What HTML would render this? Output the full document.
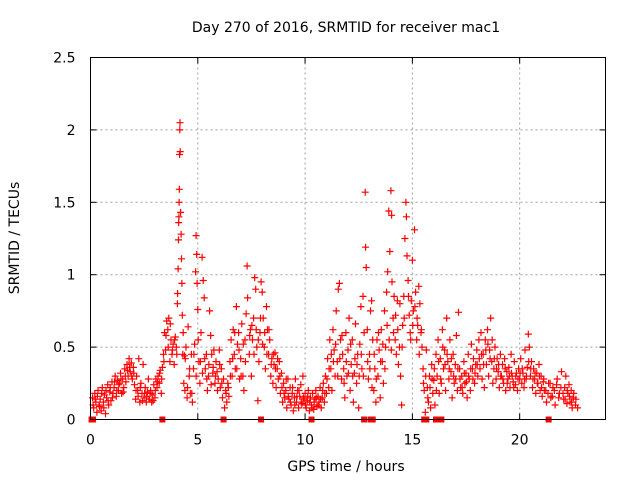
<!DOCTYPE html>
<html><head><meta charset="utf-8">
<style>
html,body{margin:0;padding:0;background:#fff;}
svg{display:block;font-family:"DejaVu Sans","Liberation Sans",sans-serif;}
</style></head>
<body>
<svg id="chart" width="640" height="480" viewBox="0 0 640 480" xmlns="http://www.w3.org/2000/svg">
<rect width="640" height="480" fill="#fff"/>
<text x="346" y="32" font-size="14" text-anchor="middle" fill="#000">Day 270 of 2016, SRMTID for receiver mac1</text>
<text x="346" y="471" font-size="14" text-anchor="middle" fill="#000">GPS time / hours</text>
<text x="0" y="0" font-size="14" text-anchor="middle" fill="#000" transform="translate(19,238) rotate(-90)">SRMTID / TECUs</text>
<g id="grid"></g>
<g id="ticks"></g>
<g id="marks"></g>
<rect x="90.5" y="57.5" width="515" height="362" fill="none" stroke="#000" stroke-width="1"/>
</svg>
<script>
const xTicks=[0,5,10,15,20];
const yTicks=[0,0.5,1,1.5,2,2.5];
const yTickLabels=["0","0.5","1","1.5","2","2.5"];
const gpsTime=[
0.10,0.15,0.20,0.25,0.30,0.35,0.40,0.45,0.50,0.55,0.60,0.65,0.70,0.75,0.80,0.85,0.90,0.95,1.00,1.05,
1.10,1.15,1.20,1.25,1.30,1.35,1.40,1.45,1.50,1.55,1.60,1.65,1.70,1.75,1.80,1.85,1.90,1.95,2.00,2.05,
2.10,2.15,2.20,2.25,2.30,2.35,2.40,2.45,2.50,2.55,2.60,2.65,2.70,2.75,2.80,2.85,2.90,2.95,3.00,3.05,
3.10,3.15,3.20,3.25,3.30,3.35,3.40,3.45,3.50,3.55,3.60,3.65,3.70,3.75,3.80,3.85,3.90,3.95,4.00,4.05,
4.06,4.08,4.10,4.11,4.12,4.13,4.14,4.15,4.16,4.17,4.18,4.20,4.22,4.24,4.26,4.28,4.30,4.32,4.35,4.38,
4.40,4.45,4.50,4.55,4.60,4.65,4.70,4.75,4.80,4.85,4.90,4.92,4.95,4.97,5.00,5.05,5.10,5.15,5.20,5.25,
5.30,5.35,5.40,5.45,5.50,5.55,5.60,5.65,5.70,5.75,5.80,5.85,5.90,5.95,6.00,6.05,6.10,6.15,6.20,6.25,
6.30,6.35,6.40,6.45,6.50,6.55,6.60,6.65,6.70,6.75,6.80,6.85,6.90,6.95,7.00,7.05,7.10,7.15,7.20,7.25,
7.30,7.32,7.40,7.45,7.50,7.55,7.60,7.65,7.70,7.75,7.80,7.85,7.90,7.95,8.00,8.05,8.10,8.15,8.20,8.25,
8.30,8.35,8.40,8.45,8.50,8.55,8.60,8.65,8.70,8.75,8.80,8.85,8.90,8.95,9.00,9.05,9.10,9.15,9.20,9.25,
9.30,9.35,9.40,9.45,9.50,9.55,9.60,9.65,9.70,9.75,9.80,9.85,9.90,9.95,10.00,10.05,10.10,10.15,10.20,10.25,
10.30,10.35,10.40,10.45,10.50,10.55,10.60,10.65,10.70,10.75,10.80,10.85,10.90,10.95,11.00,11.05,11.10,11.15,11.20,11.25,
11.30,11.35,11.40,11.45,11.50,11.55,11.60,11.65,11.70,11.75,11.80,11.85,11.90,11.95,12.00,12.05,12.10,12.15,12.20,12.25,
12.30,12.35,12.40,12.45,12.50,12.55,12.60,12.65,12.70,12.75,12.80,12.82,12.85,12.90,12.95,13.00,13.05,13.10,13.15,13.20,
13.25,13.30,13.35,13.40,13.45,13.50,13.55,13.60,13.65,13.70,13.75,13.80,13.85,13.90,13.95,14.00,14.03,14.05,14.10,14.15,
14.20,14.25,14.30,14.35,14.40,14.45,14.50,14.55,14.60,14.65,14.70,14.72,14.75,14.80,14.85,14.90,14.95,15.00,15.05,15.10,
15.15,15.20,15.25,15.30,15.35,15.40,15.45,15.50,15.55,15.60,15.65,15.70,15.75,15.80,15.85,15.90,15.95,16.00,16.05,16.10,
16.15,16.20,16.25,16.30,16.35,16.40,16.45,16.50,16.55,16.60,16.65,16.70,16.75,16.80,16.85,16.90,16.95,17.00,17.05,17.10,
17.15,17.20,17.25,17.30,17.35,17.40,17.45,17.50,17.55,17.60,17.65,17.70,17.75,17.80,17.85,17.90,17.95,18.00,18.05,18.10,
18.15,18.20,18.25,18.30,18.35,18.40,18.45,18.50,18.55,18.60,18.65,18.70,18.75,18.80,18.85,18.90,18.95,19.00,19.05,19.10,
19.15,19.20,19.25,19.30,19.35,19.40,19.45,19.50,19.55,19.60,19.65,19.70,19.75,19.80,19.85,19.90,19.95,20.00,20.05,20.10,
20.15,20.20,20.25,20.30,20.35,20.40,20.45,20.50,20.55,20.60,20.65,20.70,20.75,20.80,20.85,20.90,20.95,21.00,21.05,21.10,
21.15,21.25,21.35,21.45,21.55,21.65,21.75,21.85,21.95,22.05,22.10,22.15,22.20,22.25,22.30,22.35,22.40,22.45,22.50,22.60,
0.12,0.22,0.32,0.42,0.52,0.62,0.72,0.82,0.92,1.02,1.12,1.22,1.32,1.42,1.52,1.62,1.72,1.82,1.92,2.02,
2.12,2.22,2.32,2.42,2.52,2.62,2.72,2.82,2.92,3.02,3.12,3.22,3.32,3.42,3.52,3.62,3.72,3.82,3.92,4.02,
4.42,4.52,4.62,4.72,4.82,4.92,5.02,5.12,5.22,5.32,5.42,5.52,5.62,5.72,5.82,5.92,6.02,6.12,6.32,6.42,
6.52,6.62,6.72,6.82,6.92,7.02,7.12,7.22,7.42,7.52,7.62,7.72,7.82,7.92,8.02,8.12,8.22,8.32,8.42,8.52,
8.62,8.72,8.82,8.92,9.02,9.12,9.22,9.32,9.42,9.52,9.62,9.72,9.82,9.92,10.02,10.12,10.22,10.32,10.42,10.52,
10.62,10.72,10.82,10.92,11.02,11.12,11.22,11.32,11.42,11.52,11.62,11.72,11.82,11.92,12.02,12.12,12.22,12.32,12.42,12.52,
12.62,12.72,12.92,13.02,13.12,13.22,13.32,13.42,13.52,13.62,13.72,13.82,13.92,14.02,14.12,14.22,14.32,14.42,14.52,14.62,
14.82,14.92,15.02,15.12,15.22,15.32,15.42,15.52,15.62,15.72,15.82,15.92,16.02,16.12,16.22,16.32,16.42,16.52,16.62,16.72,
16.82,16.92,17.02,17.12,17.22,17.32,17.42,17.52,17.62,17.72,17.82,17.92,18.02,18.12,18.22,18.32,18.42,18.52,18.62,18.72,
18.82,18.92,19.02,19.12,19.22,19.32,19.42,19.52,19.62,19.72,19.82,19.92,20.02,20.12,20.22,20.32,20.42,20.52,20.62,20.72,
20.82,20.92,21.02,21.12,21.22,21.32,21.42,21.52,21.62,21.72,21.82,21.92,22.02,22.12,22.22,22.32,22.42,22.52,22.62,22.70
];
const srmtid=[
0.15,0.08,0.18,0.12,0.05,0.20,0.10,0.14,0.06,0.22,0.12,0.17,0.04,0.15,0.24,0.10,0.19,0.13,0.26,0.18,
0.22,0.30,0.16,0.27,0.20,0.25,0.32,0.18,0.28,0.22,0.35,0.26,0.38,0.30,0.42,0.33,0.39,0.28,0.36,0.24,
0.14,0.30,0.20,0.42,0.12,0.25,0.18,0.38,0.15,0.22,0.12,0.19,0.28,0.14,0.20,0.12,0.17,0.24,0.15,0.28,
0.22,0.30,0.25,0.34,0.18,0.36,0.45,0.60,0.48,0.68,0.62,0.70,0.40,0.55,0.45,0.52,0.38,0.57,0.50,0.80,
0.87,1.04,1.24,1.36,1.40,1.50,1.59,1.83,2.00,2.05,1.85,1.43,1.28,1.11,0.94,0.72,0.45,0.60,0.25,0.44,
0.20,0.50,0.15,0.64,0.30,0.18,0.45,0.12,0.35,0.52,1.02,1.27,1.14,0.94,0.76,0.40,0.25,0.60,1.12,0.96,
0.84,0.35,0.45,0.20,0.30,0.75,0.58,0.45,0.32,0.48,0.25,0.40,0.33,0.28,0.48,0.22,0.35,0.15,0.28,0.08,
0.20,0.12,0.25,0.16,0.40,0.55,0.30,0.62,0.45,0.35,0.78,0.52,0.60,0.28,0.42,0.66,0.30,0.20,0.55,0.73,
1.06,0.84,0.45,0.62,0.30,0.55,0.70,0.98,0.90,0.50,0.13,0.40,0.60,0.95,0.88,0.70,0.50,0.35,0.78,0.62,
0.45,0.55,0.30,0.42,0.25,0.38,0.46,0.22,0.35,0.28,0.40,0.18,0.32,0.12,0.25,0.15,0.20,0.08,0.28,0.14,
0.22,0.10,0.18,0.06,0.15,0.28,0.12,0.20,0.08,0.16,0.24,0.11,0.30,0.14,0.18,0.08,0.13,0.20,0.06,0.15,
0.10,0.18,0.07,0.14,0.20,0.09,0.16,0.12,0.22,0.08,0.15,0.25,0.12,0.30,0.18,0.42,0.22,0.55,0.35,0.20,
0.62,0.48,0.30,0.75,0.40,0.90,0.94,0.55,0.28,0.45,0.35,0.15,0.60,0.30,0.48,0.70,0.20,0.38,0.55,0.12,
0.32,0.66,0.25,0.45,0.08,0.52,0.78,0.35,0.85,0.60,1.57,1.19,1.05,0.62,0.28,0.45,0.75,0.82,0.55,0.20,
0.35,0.12,0.55,0.30,0.48,0.15,0.62,0.40,0.25,0.75,0.50,0.88,1.02,1.44,1.16,1.58,1.41,0.95,0.70,0.85,
0.55,0.45,0.82,0.38,0.50,0.30,0.10,0.65,0.85,1.25,1.50,1.40,1.13,0.96,0.72,0.60,0.82,1.10,0.75,1.31,
0.88,0.55,0.65,0.92,0.80,0.60,0.50,0.35,0.20,0.05,0.48,0.22,0.12,0.30,0.08,0.38,0.18,0.27,0.10,0.45,
0.30,0.55,0.18,0.42,0.25,0.62,0.35,0.48,0.20,0.70,0.40,0.28,0.55,0.33,0.15,0.45,0.25,0.38,0.58,0.20,
0.74,0.35,0.22,0.30,0.18,0.40,0.25,0.32,0.15,0.45,0.28,0.20,0.52,0.35,0.42,0.25,0.38,0.48,0.30,0.55,
0.35,0.60,0.28,0.45,0.22,0.55,0.38,0.62,0.30,0.48,0.70,0.40,0.25,0.35,0.50,0.28,0.42,0.33,0.22,0.45,
0.30,0.38,0.25,0.42,0.20,0.33,0.28,0.36,0.22,0.45,0.30,0.26,0.40,0.24,0.32,0.20,0.35,0.28,0.42,0.25,
0.32,0.22,0.48,0.28,0.36,0.59,0.50,0.30,0.40,0.22,0.35,0.28,0.18,0.32,0.25,0.38,0.20,0.30,0.16,0.26,
0.20,0.12,0.25,0.15,0.22,0.10,0.28,0.18,0.33,0.14,0.22,0.30,0.11,0.18,0.24,0.12,0.20,0.08,0.15,0.10,
0.10,0.14,0.16,0.09,0.18,0.08,0.20,0.13,0.22,0.15,0.26,0.20,0.24,0.28,0.19,0.30,0.34,0.36,0.30,0.32,
0.20,0.16,0.22,0.13,0.18,0.16,0.14,0.18,0.13,0.20,0.26,0.32,0.28,0.40,0.58,0.50,0.66,0.48,0.55,0.45,
0.42,0.22,0.35,0.18,0.45,0.30,0.55,0.40,0.32,0.42,0.28,0.38,0.24,0.36,0.30,0.20,0.38,0.25,0.18,0.22,
0.30,0.42,0.60,0.35,0.48,0.30,0.52,0.40,0.58,0.65,0.45,0.62,0.55,0.70,0.52,0.60,0.45,0.62,0.38,0.45,
0.35,0.42,0.30,0.22,0.18,0.28,0.16,0.12,0.22,0.10,0.16,0.20,0.12,0.15,0.10,0.16,0.12,0.08,0.12,0.15,
0.10,0.14,0.20,0.18,0.28,0.35,0.45,0.40,0.52,0.30,0.42,0.58,0.25,0.40,0.32,0.52,0.30,0.42,0.38,0.30,
0.45,0.30,0.40,0.35,0.22,0.45,0.28,0.60,0.40,0.52,0.35,0.65,0.55,0.48,0.60,0.72,0.62,0.80,0.50,0.70,
0.85,0.55,0.65,0.78,0.70,0.45,0.62,0.25,0.30,0.15,0.22,0.28,0.35,0.20,0.40,0.28,0.50,0.38,0.45,0.35,
0.42,0.30,0.28,0.35,0.28,0.22,0.32,0.26,0.30,0.35,0.28,0.32,0.38,0.42,0.45,0.38,0.48,0.52,0.42,0.55,
0.42,0.35,0.38,0.30,0.28,0.35,0.25,0.30,0.32,0.22,0.30,0.28,0.32,0.35,0.28,0.30,0.40,0.35,0.28,0.32,
0.25,0.30,0.22,0.28,0.20,0.18,0.25,0.16,0.20,0.24,0.15,0.22,0.18,0.14,0.20,0.16,0.12,0.18,0.14,0.08
];
const zeroTimes=[0.05,0.12,3.35,6.2,7.95,10.3,12.75,13.05,13.15,15.55,15.65,16.1,16.35,21.35];

const X0=90.5,X1=605.5,Y0=419.5,Y1=57.5,XMAX=24,YMAX=2.5;
function xs(t){return X0+(X1-X0)*t/XMAX;}
function ys(v){return Y0-(Y0-Y1)*v/YMAX;}
const NS="http://www.w3.org/2000/svg";
function mk(tag,attrs,parent){const e=document.createElementNS(NS,tag);for(const k in attrs)e.setAttribute(k,attrs[k]);parent.appendChild(e);return e;}
const grid=document.getElementById('grid'),ticks=document.getElementById('ticks'),marks=document.getElementById('marks');
xTicks.forEach(function(t){
  const x=xs(t);
  if(t>0){const g=mk('line',{x1:x,x2:x,y1:Y1,y2:Y0,stroke:'#a0a0a0','stroke-dasharray':'2,3','stroke-width':1},grid);
  
  }
  mk('line',{x1:x,x2:x,y1:Y0,y2:Y0-6,stroke:'#000'},ticks);
  mk('line',{x1:x,x2:x,y1:Y1,y2:Y1+6,stroke:'#000'},ticks);
  const l=mk('text',{x:x,y:Y0+25,'font-size':14,'text-anchor':'middle',fill:'#000'},ticks);
  l.textContent=String(t);
  
  
});
yTicks.forEach(function(v,i){
  const y=ys(v);
  if(v>0&&v<YMAX){const g=mk('line',{x1:X0,x2:X1,y1:y,y2:y,stroke:'#a0a0a0','stroke-dasharray':'2,3','stroke-width':1},grid);
  
  }
  mk('line',{x1:X0,x2:X0+6,y1:y,y2:y,stroke:'#000'},ticks);
  mk('line',{x1:X1,x2:X1-6,y1:y,y2:y,stroke:'#000'},ticks);
  const l=mk('text',{x:X0-15,y:y+5,'font-size':14,'text-anchor':'end',fill:'#000'},ticks);
  l.textContent=yTickLabels[i];
  
  
});
let d='';
for(let i=0;i<gpsTime.length;i++){
  const x=xs(gpsTime[i]),y=ys(srmtid[i]);
  d+='M'+(x-3.5).toFixed(1)+' '+y.toFixed(1)+'h7M'+x.toFixed(1)+' '+(y-3.5).toFixed(1)+'v7';
}
const p=mk('path',{d:d,stroke:'#ff0000','stroke-width':1.2,fill:'none'},marks);


zeroTimes.forEach(function(t){
  const r=mk('rect',{x:xs(t)-3,y:ys(0)-3,width:6,height:6,fill:'#ff0000'},marks);
  
  
});
</script>
</body></html>
